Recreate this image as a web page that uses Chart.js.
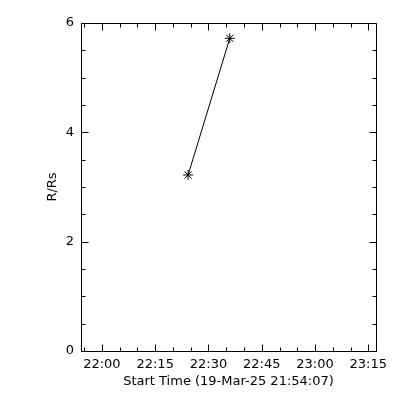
<!DOCTYPE html>
<html>
<head>
<meta charset="utf-8">
<script src="https://cdn.jsdelivr.net/npm/chart.js@4.4.1/dist/chart.umd.min.js"></script>
<style>
  html, body { margin: 0; padding: 0; background: #fff; }
</style>
</head>
<body>
<canvas id="chartRs" width="400" height="400"></canvas>
<script>
// data
const startTimes = ['22:24:16', '22:36:00'];
const radiusRs = [3.22, 5.72];

// axes
const xTickLabels = ['22:00', '22:15', '22:30', '22:45', '23:00', '23:15'];
const xRange = ['21:54:07', '23:17:10'];
const yTickValues = [0, 2, 4, 6];
const yRange = [0, 6];

// "hh:mm[:ss]" -> minutes of the day
function toMin(t) {
    const p = t.split(':').map(Number);
    return p[0] * 60 + p[1] + (p[2] || 0) / 60;
}
function fmt(v) {
    const h = Math.floor(v / 60), m = Math.round(v - h * 60);
    return String(h).padStart(2, '0') + ':' + String(m).padStart(2, '0');
}

const points = startTimes.map((t, i) => ({ x: toMin(t), y: radiusRs[i] }));
const xTickValues = xTickLabels.map(toMin);

// IDL style box: ticks pointing inward on all four sides
const boxTicks = {
    id: 'boxTicks',
    afterDatasetsDraw(chart) {
        const { ctx, chartArea: a, scales: { x, y } } = chart;
        const L = Math.round(a.left) + 0.5, R = Math.round(a.right) + 0.5;
        const T = Math.round(a.top) + 0.5, B = Math.round(a.bottom) + 0.5;
        ctx.save();
        ctx.strokeStyle = '#000';
        ctx.lineWidth = 1;
        ctx.beginPath();
        ctx.rect(L, T, R - L, B - T);

        // x ticks every 5 min, major every 15
        for (let v = Math.ceil(x.min / 5) * 5; v <= x.max; v += 5) {
            const px = Math.round(x.getPixelForValue(v)) + 0.5;
            const len = v % 15 === 0 ? 7 : 4;
            ctx.moveTo(px, B); ctx.lineTo(px, B - len);
            ctx.moveTo(px, T); ctx.lineTo(px, T + len);
        }
        // y ticks every 0.5, major every 2
        for (let v = y.min; v <= y.max + 1e-9; v += 0.5) {
            const py = Math.round(y.getPixelForValue(v)) + 0.5;
            const len = v % 2 === 0 ? 7 : 4;
            ctx.moveTo(L, py); ctx.lineTo(L + len, py);
            ctx.moveTo(R, py); ctx.lineTo(R - len, py);
        }
        ctx.stroke();
        ctx.restore();
    }
};

const font = { family: 'DejaVu Sans', size: 13 };

new Chart(document.getElementById('chartRs'), {
    type: 'line',
    data: {
        datasets: [{
            data: points,
            borderColor: '#000',
            borderWidth: 1,
            pointStyle: 'star',
            pointRadius: 5,
            pointBorderColor: '#000',
            pointBorderWidth: 1,
            pointBackgroundColor: '#000',
            tension: 0
        }]
    },
    options: {
        responsive: false,
        animation: false,
        events: [],
        layout: { padding: { left: 0, right: 24, top: 23, bottom: 8 } },
        plugins: { legend: { display: false }, tooltip: { enabled: false } },
        scales: {
            x: {
                type: 'linear',
                min: toMin(xRange[0]),
                max: toMin(xRange[1]),
                grid: { display: false, drawTicks: false },
                border: { display: false },
                afterBuildTicks: s => { s.ticks = xTickValues.map(v => ({ value: v })); },
                afterFit: s => { s.height = 41; },
                ticks: {
                    color: '#000', font: font, padding: 6, maxRotation: 0, autoSkip: false,
                    callback: v => fmt(v)
                },
                title: {
                    display: true, text: 'Start Time (19-Mar-25 21:54:07)',
                    color: '#000', font: font, padding: { top: 0, bottom: 3 }
                }
            },
            y: {
                min: yRange[0],
                max: yRange[1],
                grid: { display: false, drawTicks: false },
                border: { display: false },
                afterBuildTicks: s => { s.ticks = yTickValues.map(v => ({ value: v })); },
                afterFit: s => { s.width = 81; },
                ticks: { color: '#000', font: font, padding: 7, callback: v => String(v) },
                title: {
                    display: true, text: 'R/Rs',
                    color: '#000', font: font, padding: { top: 45, bottom: 0 }
                }
            }
        }
    },
    plugins: [boxTicks]
});
</script>
</body>
</html>
